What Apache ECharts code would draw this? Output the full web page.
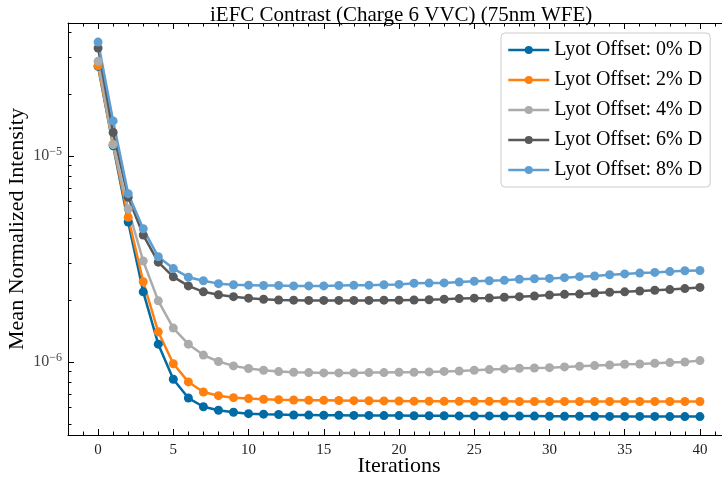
<!DOCTYPE html>
<html>
<head>
<meta charset="utf-8">
<script src="https://cdn.jsdelivr.net/npm/echarts@6/dist/echarts.min.js"></script>
<style>html,body{margin:0;padding:0;background:#fff}#c{width:722px;height:479px}</style>
</head>
<body>
<div id="c"></div>
<script>
const iterations = Array.from({length: 41}, (_, i) => i);
const seriesNames = ['Lyot Offset: 0% D', 'Lyot Offset: 2% D', 'Lyot Offset: 4% D', 'Lyot Offset: 6% D', 'Lyot Offset: 8% D'];
const offset0 = [2.72e-5,1.12e-5,4.78e-6,2.19e-6,1.22e-6,8.24e-7,6.68e-7,6.06e-7,5.83e-7,5.70e-7,5.61e-7,5.58e-7,5.56e-7,5.53e-7,5.52e-7,5.51e-7,5.51e-7,5.50e-7,5.50e-7,5.49e-7,5.49e-7,5.48e-7,5.48e-7,5.48e-7,5.47e-7,5.47e-7,5.47e-7,5.46e-7,5.46e-7,5.46e-7,5.45e-7,5.45e-7,5.45e-7,5.45e-7,5.44e-7,5.44e-7,5.44e-7,5.44e-7,5.43e-7,5.43e-7,5.43e-7];
const offset2 = [2.74e-5,1.14e-5,5.04e-6,2.45e-6,1.40e-6,9.80e-7,8.00e-7,7.15e-7,6.86e-7,6.71e-7,6.64e-7,6.59e-7,6.56e-7,6.54e-7,6.52e-7,6.51e-7,6.50e-7,6.49e-7,6.48e-7,6.47e-7,6.46e-7,6.45e-7,6.45e-7,6.44e-7,6.44e-7,6.44e-7,6.44e-7,6.44e-7,6.43e-7,6.43e-7,6.43e-7,6.43e-7,6.43e-7,6.43e-7,6.43e-7,6.43e-7,6.43e-7,6.43e-7,6.43e-7,6.43e-7,6.43e-7];
const offset4 = [2.88e-5,1.135e-5,5.53e-6,3.09e-6,1.98e-6,1.46e-6,1.22e-6,1.08e-6,1.005e-6,9.57e-7,9.29e-7,9.12e-7,8.98e-7,8.91e-7,8.88e-7,8.85e-7,8.85e-7,8.85e-7,8.88e-7,8.88e-7,8.91e-7,8.91e-7,8.95e-7,9.00e-7,9.04e-7,9.12e-7,9.18e-7,9.25e-7,9.32e-7,9.35e-7,9.38e-7,9.46e-7,9.53e-7,9.60e-7,9.67e-7,9.75e-7,9.78e-7,9.86e-7,9.93e-7,1.00e-6,1.015e-6];
const offset6 = [3.34e-5,1.30e-5,6.30e-6,4.13e-6,3.05e-6,2.59e-6,2.34e-6,2.19e-6,2.12e-6,2.075e-6,2.04e-6,2.015e-6,2.00e-6,1.995e-6,1.99e-6,1.99e-6,1.99e-6,1.99e-6,1.99e-6,1.995e-6,1.995e-6,2.00e-6,2.005e-6,2.015e-6,2.03e-6,2.04e-6,2.045e-6,2.06e-6,2.075e-6,2.09e-6,2.115e-6,2.13e-6,2.135e-6,2.16e-6,2.18e-6,2.19e-6,2.21e-6,2.23e-6,2.245e-6,2.27e-6,2.30e-6];
const offset8 = [3.57e-5,1.48e-5,6.56e-6,4.43e-6,3.24e-6,2.84e-6,2.58e-6,2.48e-6,2.40e-6,2.37e-6,2.36e-6,2.35e-6,2.35e-6,2.34e-6,2.34e-6,2.34e-6,2.35e-6,2.355e-6,2.36e-6,2.37e-6,2.38e-6,2.41e-6,2.415e-6,2.42e-6,2.445e-6,2.465e-6,2.48e-6,2.49e-6,2.52e-6,2.535e-6,2.545e-6,2.565e-6,2.595e-6,2.615e-6,2.65e-6,2.675e-6,2.70e-6,2.72e-6,2.745e-6,2.77e-6,2.78e-6];
const xMajorTicks = [0,5,10,15,20,25,30,35,40];
const xMinorTicks = [-1,1,2,3,4,6,7,8,9,11,12,13,14,16,17,18,19,21,22,23,24,26,27,28,29,31,32,33,34,36,37,38,39,41];
const yMajorTicks = [1e-6, 1e-5];
const yMinorTicks = [5e-7,6e-7,7e-7,8e-7,9e-7,2e-6,3e-6,4e-6,5e-6,6e-6,7e-6,8e-6,9e-6,2e-5,3e-5,4e-5];
const colors = ['#006BA4', '#FF800E', '#ABABAB', '#595959', '#5F9ED1'];
const allSeries = [offset0, offset2, offset4, offset6, offset8];

const serif = '"Liberation Serif", "DejaVu Serif", serif';
const chart = echarts.init(document.getElementById('c'), null, {renderer: 'canvas'});

function xAxisDef(pos, major, showLabel) {
  return {
    type: 'value', position: pos, min: -2, max: 42,
    axisLine: {show: major, onZero: false, lineStyle: {color: '#000', width: 1}},
    axisTick: {show: true, inside: true, length: major ? 6 : 3.5, customValues: major ? xMajorTicks : xMinorTicks, lineStyle: {color: '#000', width: 1}},
    axisLabel: {show: showLabel, customValues: xMajorTicks, margin: 8, fontFamily: serif, fontSize: 15, color: '#222'},
    splitLine: {show: false},
    name: showLabel ? 'Iterations' : '', nameLocation: 'middle', nameGap: 20, nameMoveOverlap: false,
    nameTextStyle: {fontFamily: serif, fontSize: 22, color: '#000'}
  };
}
function yAxisDef(major) {
  return {
    type: 'log', logBase: 10, position: 'left', min: 4.42e-7, max: 4.42e-5,
    axisLine: {show: major, onZero: false, lineStyle: {color: '#000', width: 1}},
    axisTick: {show: true, inside: true, length: major ? 6 : 3.5, customValues: major ? yMajorTicks : yMinorTicks, lineStyle: {color: '#000', width: 1}},
    axisLabel: {show: major, customValues: yMajorTicks, margin: 6,
      formatter: v => '{b|10}{s|−' + (-Math.round(Math.log10(v))) + '}',
      rich: {b: {fontFamily: serif, fontSize: 16, color: '#444'}, s: {fontFamily: serif, fontSize: 12, color: '#444', verticalAlign: 'bottom', padding: [0, 0, 9, 0]}}},
    splitLine: {show: false}, minorSplitLine: {show: false},
    name: major ? 'Mean Normalized Intensity' : '', nameLocation: 'middle', nameGap: 40, nameMoveOverlap: false,
    nameTextStyle: {fontFamily: serif, fontSize: 22, color: '#000'}
  };
}

chart.setOption({
  animation: false,
  backgroundColor: '#fff',
  title: {text: 'iEFC Contrast (Charge 6 VVC) (75nm WFE)', left: 205, top: 0,
    textStyle: {fontFamily: serif, fontSize: 21, fontWeight: 'normal', color: '#000'}},
  grid: {left: 68, top: 23, right: -8, bottom: 44, containLabel: false, outerBoundsMode: 'none'},
  xAxis: [xAxisDef('bottom', true, true), xAxisDef('bottom', false, false), xAxisDef('top', true, false), xAxisDef('top', false, false)],
  yAxis: [yAxisDef(true), yAxisDef(false)],
  legend: {
    orient: 'vertical', left: 501, top: 33, itemWidth: 41, itemHeight: 10, itemGap: 10,
    padding: [7, 8, 7, 6], borderColor: '#cccccc', borderWidth: 1, borderRadius: 4, backgroundColor: '#fff',
    textStyle: {fontFamily: serif, fontSize: 20, color: '#000'},
    lineStyle: {width: 2.5},
    data: seriesNames
  },
  series: allSeries.map((vals, k) => ({
    name: seriesNames[k], type: 'line', xAxisIndex: 0, yAxisIndex: 0,
    data: iterations.map((x, i) => [x, vals[i]]),
    symbol: 'circle', symbolSize: 9, showSymbol: true,
    lineStyle: {color: colors[k], width: 2.5},
    itemStyle: {color: colors[k]},
    emphasis: {disabled: true}
  }))
});
</script>
</body>
</html>
